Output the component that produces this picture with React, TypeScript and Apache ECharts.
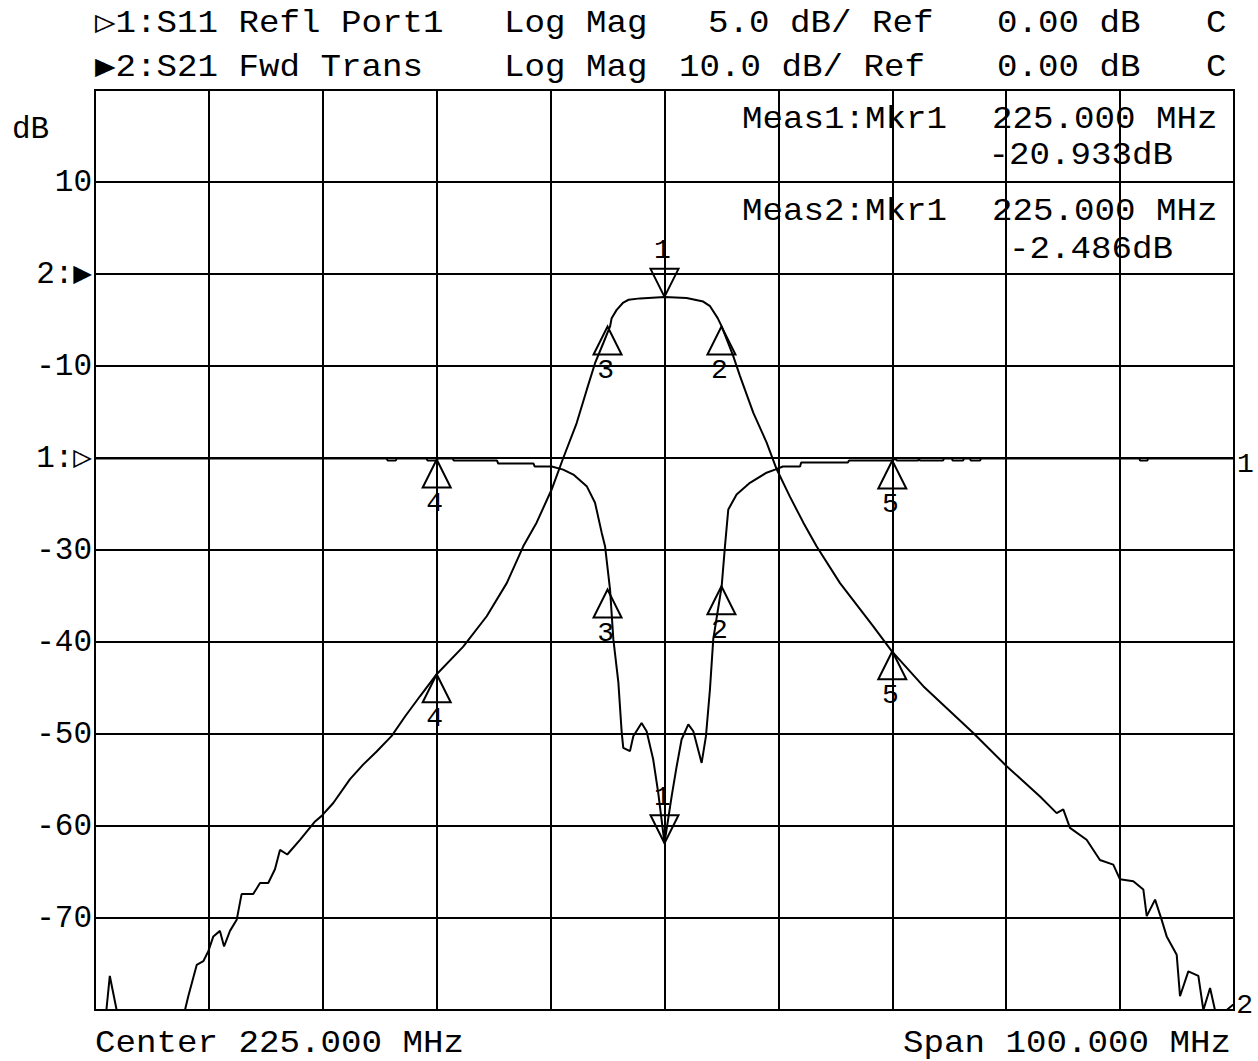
import React, { useEffect, useRef } from "react";
import * as echarts from "echarts";

const FONT = '"Liberation Mono", "DejaVu Sans Mono", monospace';

// Axis ranges (MHz and dB)
const xMin = 175;
const xMax = 275;
const xStep = 10;
const yMin = -80; // S21 scale, 10 dB/div, ref 0 dB
const yMax = 20;
const yStep = 10;
const s11Min = -30; // S11 scale, 5 dB/div, ref 0 dB
const s11Max = 20;
const s11Step = 5;

// Y tick labels (S21 scale)
const yTickValues = [20, 10, 0, -10, -20, -30, -40, -50, -60, -70, -80];
const yTickLabels = ["", "10", "2:\u25B6", "-10", "1:\u25B7", "-30", "-40", "-50", "-60", "-70", ""];

// Trace 2: S21 Fwd Trans (dB)
const s21Freq = [
  175.0, 176.0, 176.3, 176.9, 182.9, 183.19, 183.93, 184.51, 184.95, 185.39,
  185.97, 186.33, 186.85, 187.44, 187.87, 188.89, 189.49, 190.21, 190.8, 191.24,
  191.88, 193.0, 194.32, 194.9, 195.92, 197.39, 198.56, 199.73, 201.05, 202.22,
  203.53, 205.0, 207.33, 209.39, 211.15, 212.6, 213.78, 215.1, 216.11, 217.29,
  218.17, 218.9, 219.63, 220.22, 220.36, 220.8, 221.38, 221.85, 222.85, 225.0,
  226.94, 228.4, 229.0, 229.67, 230.02, 231.03, 231.63, 232.8, 233.96, 234.84,
  236.01, 237.18, 238.35, 240.41, 243.33, 244.95, 247.72, 252.11, 255.04, 257.97,
  259.43, 260.01, 260.6, 262.06, 263.23, 264.4, 264.99, 266.16, 267.04, 267.34,
  268.07, 268.65, 269.09, 269.97, 270.26, 270.99, 271.87, 272.31, 272.9, 273.33,
  274.36, 274.94,
];
const s21Db = [
  -80, -80, -76.3, -80, -80, -78.5, -75.1, -74.7, -73.6, -72.0,
  -71.4, -73.1, -71.4, -70.2, -67.4, -67.4, -66.2, -66.2, -64.7, -62.6,
  -63.1, -61.5, -59.5, -58.9, -57.5, -54.9, -53.3, -51.9, -50.2, -48.1,
  -45.9, -43.5, -40.5, -37.2, -33.6, -29.6, -27.0, -23.4, -20.0, -16.2,
  -12.6, -9.7, -7.5, -5.7, -4.8, -3.9, -3.1, -2.8, -2.65, -2.49,
  -2.6, -3.0, -3.5, -4.8, -5.7, -8.9, -11.1, -15.1, -18.3, -21.2,
  -24.2, -27.0, -29.6, -33.6, -38.3, -41.0, -44.8, -49.9, -53.5, -56.8,
  -58.6, -58.2, -60.2, -61.5, -63.7, -64.2, -65.8, -66.0, -66.9, -69.8,
  -68.0, -70.2, -72.0, -74.0, -78.5, -75.8, -76.3, -80, -77.6, -80,
  -80, -79.4,
];

// Trace 1: S11 Refl Port1 (dB)
const s11Freq = [
  175.0, 200.6, 200.7, 201.4, 201.5, 204.1, 204.2, 205.0, 205.1, 206.4,
  206.5, 210.3, 210.4, 213.5, 213.6, 215.1, 216.1, 217.0, 218.17, 218.9,
  219.49, 219.78, 220.22, 220.51, 220.95, 221.24, 221.38, 221.97, 222.26, 222.99,
  223.43, 224.01, 224.45, 225.0, 225.63, 226.07, 226.5, 227.09, 227.53, 228.26,
  228.64, 228.99, 229.28, 230.02, 230.31, 230.6, 231.33, 232.5, 233.96, 234.7,
  235.4, 236.9, 237.0, 241.1, 241.2, 245.06, 245.2, 245.41, 247.26, 247.33,
  247.43, 249.45, 249.55, 250.24, 250.3, 251.21, 251.3, 251.82, 251.9, 252.7,
  252.8, 266.7, 266.75, 267.4, 267.45, 275.0,
];
const s11Db = [
  -0.03, -0.03, -0.14, -0.14, -0.03, -0.03, -0.14, -0.14, -0.03, -0.03,
  -0.14, -0.14, -0.3, -0.3, -0.46, -0.46, -0.63, -0.9, -1.53, -2.43,
  -4.07, -4.79, -7.15, -9.86, -12.2, -14.9, -15.75, -15.93, -15.12, -14.4,
  -14.85, -16.39, -18.2, -20.93, -18.38, -16.75, -15.3, -14.48, -14.85, -16.57,
  -15.12, -12.58, -9.86, -6.97, -4.79, -2.8, -1.98, -1.35, -0.8, -0.63,
  -0.46, -0.46, -0.24, -0.24, -0.14, -0.14, -0.03, -0.14, -0.14, -0.03,
  -0.14, -0.14, -0.03, -0.03, -0.14, -0.14, -0.03, -0.03, -0.14, -0.14,
  -0.03, -0.03, -0.14, -0.14, -0.03, -0.03,
];

// Markers
const markerIds = [1, 2, 3, 4, 5];
const markerFreq = [225, 230, 220, 205, 245];
const s21MarkerDb = [-2.486, -5.7, -5.7, -43.5, -41.0];
const s11MarkerDb = [-20.933, -6.97, -7.15, -0.08, -0.14];

// Header texts
const header1 = ["\u25B71:S11 Refl Port1", "Log Mag", "5.0 dB/ Ref", "0.00 dB", "C"];
const header2 = ["\u25B62:S21 Fwd Trans", "Log Mag", "10.0 dB/ Ref", "0.00 dB", "C"];

const UP = "path://M14,0L28,28L0,28Z";
const DOWN = "path://M0,0L28,0L14,28Z";

const FS = 31;
const SX = 20.5 / (0.6 * FS);

function txt(text: string, x: number, y: number, align: string = "left", sx: number = SX) {
  return {
    type: "text",
    x,
    y,
    scaleX: sx,
    silent: true,
    style: {
      text,
      fill: "#000",
      fontSize: FS,
      fontFamily: FONT,
      align,
      verticalAlign: "middle",
      textAlign: align,
      textVerticalAlign: "middle",
    },
  };
}

function markers(db: number[]) {
  return markerIds.map((id, i) => {
    const down = id === 1;
    return {
      coord: [markerFreq[i], db[i]],
      symbol: down ? DOWN : UP,
      symbolSize: [28, 28],
      symbolOffset: [0, down ? -14 : 14],
      label: {
        show: true,
        formatter: String(id),
        position: down ? "top" : "bottom",
        distance: down ? 3 : 1,
        offset: [-2, 0],
        color: "#000",
        fontSize: 28,
        fontFamily: FONT,
      },
    };
  });
}

export default function App() {
  const ref = useRef<HTMLDivElement>(null);

  useEffect(() => {
    if (!ref.current) return;
    const chart = echarts.init(ref.current, null, { renderer: "svg" });

    const h1x = [95, 504, 708, 997, 1206];
    const h2x = [95, 504, 679, 997, 1206];
    const graphic: any[] = [];
    header1.forEach((t, i) => graphic.push(txt(t, h1x[i], 24)));
    header2.forEach((t, i) => graphic.push(txt(t, h2x[i], 68)));
    graphic.push(txt("dB", 12, 129, "left", 1));
    graphic.push(txt("Meas1:Mkr1", 742, 120));
    graphic.push(txt(markerFreq[0].toFixed(3) + " MHz", 992, 120));
    graphic.push(txt(s11MarkerDb[0].toFixed(3) + "dB", 1173, 156, "right"));
    graphic.push(txt("Meas2:Mkr1", 742, 212));
    graphic.push(txt(markerFreq[0].toFixed(3) + " MHz", 992, 212));
    graphic.push(txt(s21MarkerDb[0].toFixed(3) + "dB", 1173, 250, "right"));
    graphic.push(txt("Center " + ((xMin + xMax) / 2).toFixed(3) + " MHz", 95, 1044));
    graphic.push(txt("Span " + (xMax - xMin).toFixed(3) + " MHz", 1231, 1044, "right"));

    const option: any = {
      animation: false,
      backgroundColor: "#fff",
      grid: {
        left: 95,
        top: 90,
        width: 1139,
        height: 920,
        show: true,
        borderColor: "#000",
        borderWidth: 2,
        backgroundColor: "#fff",
      },
      xAxis: {
        type: "value",
        min: xMin,
        max: xMax,
        interval: xStep,
        axisLine: { show: false },
        axisTick: { show: false },
        axisLabel: { show: false },
        splitLine: { show: true, lineStyle: { color: "#000", width: 2 } },
      },
      yAxis: [
        {
          type: "value",
          min: yMin,
          max: yMax,
          interval: yStep,
          axisLine: { show: false },
          axisTick: { show: false },
          splitLine: { show: true, lineStyle: { color: "#000", width: 2 } },
          axisLabel: {
            show: true,
            margin: 3,
            color: "#000",
            fontSize: FS,
            fontFamily: FONT,
            padding: [6, 0, 0, 0],
            formatter: (v: number) => {
              const k = yTickValues.indexOf(v);
              return k >= 0 ? yTickLabels[k] : "";
            },
          },
        },
        {
          type: "value",
          min: s11Min,
          max: s11Max,
          interval: s11Step,
          show: false,
          splitLine: { show: false },
        },
      ],
      series: [
        {
          name: "S11",
          type: "line",
          yAxisIndex: 1,
          data: s11Freq.map((f, i) => [f, s11Db[i]]),
          showSymbol: false,
          symbol: "none",
          silent: true,
          lineStyle: { color: "#000", width: 2 },
          endLabel: {
            show: true,
            formatter: "1",
            color: "#000",
            fontSize: 28,
            fontFamily: FONT,
            distance: 3,
            offset: [0, 6],
          },
          markPoint: {
            silent: true,
            itemStyle: { color: "rgba(0,0,0,0)", borderColor: "#000", borderWidth: 2 },
            data: markers(s11MarkerDb),
          },
        },
        {
          name: "S21",
          type: "line",
          yAxisIndex: 0,
          data: s21Freq.map((f, i) => [f, s21Db[i]]),
          showSymbol: false,
          symbol: "none",
          silent: true,
          lineStyle: { color: "#000", width: 2 },
          endLabel: {
            show: true,
            formatter: "2",
            color: "#000",
            fontSize: 28,
            fontFamily: FONT,
            distance: 3,
            offset: [0, 1],
          },
          markPoint: {
            silent: true,
            itemStyle: { color: "rgba(0,0,0,0)", borderColor: "#000", borderWidth: 2 },
            data: markers(s21MarkerDb),
          },
        },
      ],
      graphic,
    };

    chart.setOption(option);
    return () => chart.dispose();
  }, []);

  return (
    <div
      ref={ref}
      style={{ position: "fixed", left: 0, top: 0, width: 1258, height: 1061, background: "#fff" }}
    />
  );
}
